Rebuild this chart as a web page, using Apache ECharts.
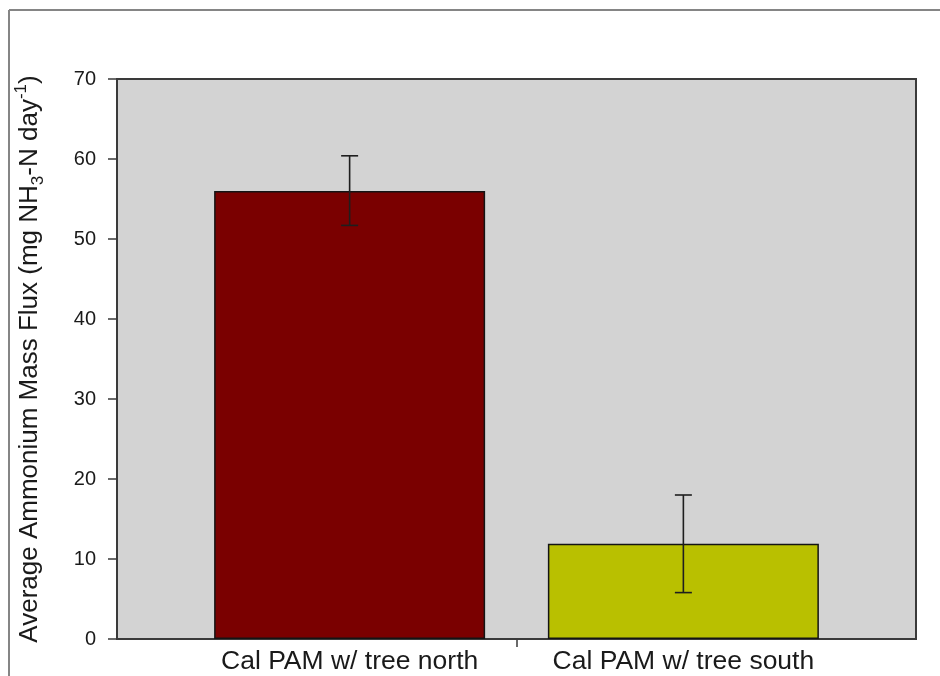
<!DOCTYPE html>
<html>
<head>
<meta charset="utf-8">
<style>
  html, body { margin: 0; padding: 0; background: #ffffff; }
  #chart { width: 940px; height: 676px; }
</style>
<script src="https://cdn.jsdelivr.net/npm/echarts@6/dist/echarts.min.js"></script>
</head>
<body>
<div id="chart"></div>
<script>
// Average ammonium mass flux per site, with error bar bounds
var categories = ['Cal PAM w/ tree north', 'Cal PAM w/ tree south'];
var fluxMeans = [56.0, 11.9];
var errLow = [51.7, 5.8];
var errHigh = [60.4, 18.0];
var barColors = ['#7a0000', '#b9c000'];
var yTicks = [0, 10, 20, 30, 40, 50, 60, 70];

var FONT = "'Liberation Sans', Arial, sans-serif";

var chart = echarts.init(document.getElementById('chart'), null, { renderer: 'canvas' });

var barData = fluxMeans.map(function (v, i) {
  return { value: [i, v], itemStyle: { color: barColors[i] } };
});
var errData = fluxMeans.map(function (v, i) {
  return [i, errLow[i], errHigh[i]];
});

chart.setOption({
  animation: false,
  backgroundColor: '#ffffff',
  textStyle: { fontFamily: FONT },
  graphic: [
    { type: 'line', shape: { x1: 9, y1: 10, x2: 940, y2: 10 }, style: { stroke: '#858585', lineWidth: 2 }, silent: true },
    { type: 'line', shape: { x1: 9, y1: 10, x2: 9, y2: 676 }, style: { stroke: '#858585', lineWidth: 2 }, silent: true }
  ],
  grid: {
    left: 117, right: 24, top: 79, bottom: 37,
    show: true,
    backgroundColor: '#d3d3d3',
    borderColor: '#3a3a3a',
    borderWidth: 2
  },
  xAxis: {
    type: 'value',
    min: -0.697,
    max: 1.697,
    axisLine: { show: true, onZero: false, lineStyle: { color: '#3a3a3a', width: 2 } },
    axisTick: { show: true, customValues: [0.5], length: 8, lineStyle: { color: '#3a3a3a', width: 1.5 } },
    axisLabel: {
      customValues: [0, 1],
      formatter: function (v) { return categories[Math.round(v)] || ''; },
      fontSize: 26.5, color: '#1a1a1a', fontFamily: FONT, margin: 9
    },
    splitLine: { show: false }
  },
  yAxis: {
    type: 'value',
    min: 0, max: 70, interval: 10,
    name: '{n|Average Ammonium Mass Flux (mg NH}{sub|3}{n|-N day}{sup|-1}{n|)}',
    nameLocation: 'middle',
    nameRotate: 90,
    nameGap: 70,
    nameTextStyle: {
      fontFamily: FONT, color: '#1a1a1a',
      rich: {
        n: { fontSize: 26, fontFamily: FONT, color: '#1a1a1a', lineHeight: 34 },
        sub: { fontSize: 17, fontFamily: FONT, color: '#1a1a1a', verticalAlign: 'bottom', lineHeight: 34 },
        sup: { fontSize: 17, fontFamily: FONT, color: '#1a1a1a', verticalAlign: 'top', lineHeight: 34 }
      }
    },
    axisLine: { show: true, onZero: false, lineStyle: { color: '#3a3a3a', width: 2 } },
    axisTick: { show: true, length: 9, lineStyle: { color: '#3a3a3a', width: 1.5 } },
    axisLabel: {
      fontSize: 20, color: '#1a1a1a', fontFamily: FONT, margin: 21,
      formatter: function (v) { return yTicks.indexOf(v) >= 0 ? String(v) : ''; }
    },
    splitLine: { show: false }
  },
  series: [
    {
      type: 'bar',
      data: barData,
      barWidth: 271,
      itemStyle: { borderColor: '#141414', borderWidth: 1.5 },
      z: 2
    },
    {
      type: 'custom',
      data: errData,
      encode: { x: 0, y: [1, 2] },
      z: 3,
      renderItem: function (params, api) {
        var x = api.value(0);
        var lo = api.coord([x, api.value(1)]);
        var hi = api.coord([x, api.value(2)]);
        var half = 8.5;
        var st = { stroke: '#1e1e1e', lineWidth: 1.6, fill: null };
        return {
          type: 'group',
          children: [
            { type: 'line', shape: { x1: lo[0], y1: lo[1], x2: hi[0], y2: hi[1] }, style: st },
            { type: 'line', shape: { x1: hi[0] - half, y1: hi[1], x2: hi[0] + half, y2: hi[1] }, style: st },
            { type: 'line', shape: { x1: lo[0] - half, y1: lo[1], x2: lo[0] + half, y2: lo[1] }, style: st }
          ]
        };
      }
    }
  ]
});
</script>
</body>
</html>
